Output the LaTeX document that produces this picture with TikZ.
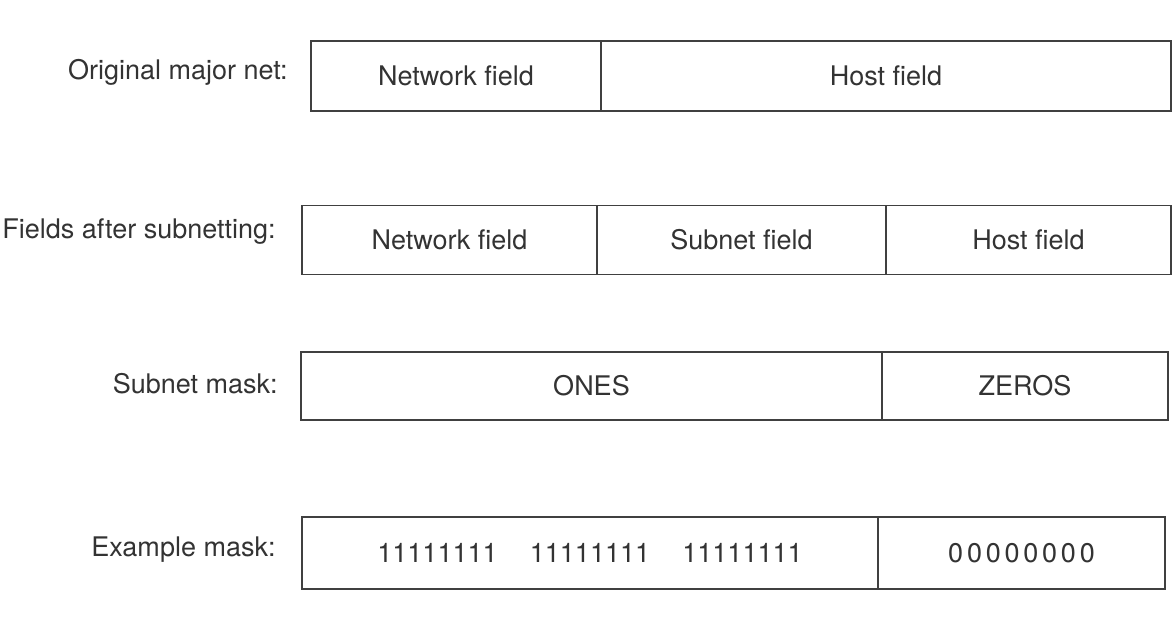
\documentclass[tikz,border=0pt]{standalone}
\usepackage{fontspec}
\setmainfont{TeX Gyre Heros}

\begin{document}
\begin{tikzpicture}[x=0.5pt,y=-0.5pt,
    field/.style={draw=black!75,line width=0.6pt,inner sep=0pt,text=black!80,
      font=\fontsize{13.5}{16}\selectfont},
    rowlabel/.style={anchor=east,inner sep=0pt,text=black!80,
      font=\fontsize{13.5}{16}\selectfont}]
\useasboundingbox (0,0) rectangle (1172,616);

\node[rowlabel] (lblorig) at (288,72) {Original major net:};
\node[field,minimum width=145pt,minimum height=35pt] (orignet) at (456,76) {Network field};
\node[field,minimum width=285pt,minimum height=35pt] (orighost) at (886,76) {Host field};

\node[rowlabel] (lblsub) at (276,232) {Fields after subnetting:};
\node[field,minimum width=147.5pt,minimum height=34.5pt] (subnet) at (449.5,240) {Network field};
\node[field,minimum width=144.5pt,minimum height=34.5pt] (subsub) at (741.5,240) {Subnet field};
\node[field,minimum width=142.5pt,minimum height=34.5pt] (subhost) at (1028.5,240) {Host field};

\node[rowlabel] (lblmask) at (278,384) {Subnet mask:};
\node[field,minimum width=290.5pt,minimum height=34pt] (maskones) at (591.5,386) {ONES};
\node[field,minimum width=143pt,minimum height=34pt] (maskzeros) at (1025,386) {ZEROS};

\node[rowlabel] (lblex) at (276,550) {Example mask:};
\node[field,minimum width=288pt,minimum height=36pt] (exones) at (590,553)
  {11111111\hspace{1.2em}11111111\hspace{1.2em}11111111};
\node[field,minimum width=143.5pt,minimum height=36pt] (exzeros) at (1021.5,553)
  {\addfontfeatures{LetterSpace=14}00000000};
\end{tikzpicture}
\end{document}
